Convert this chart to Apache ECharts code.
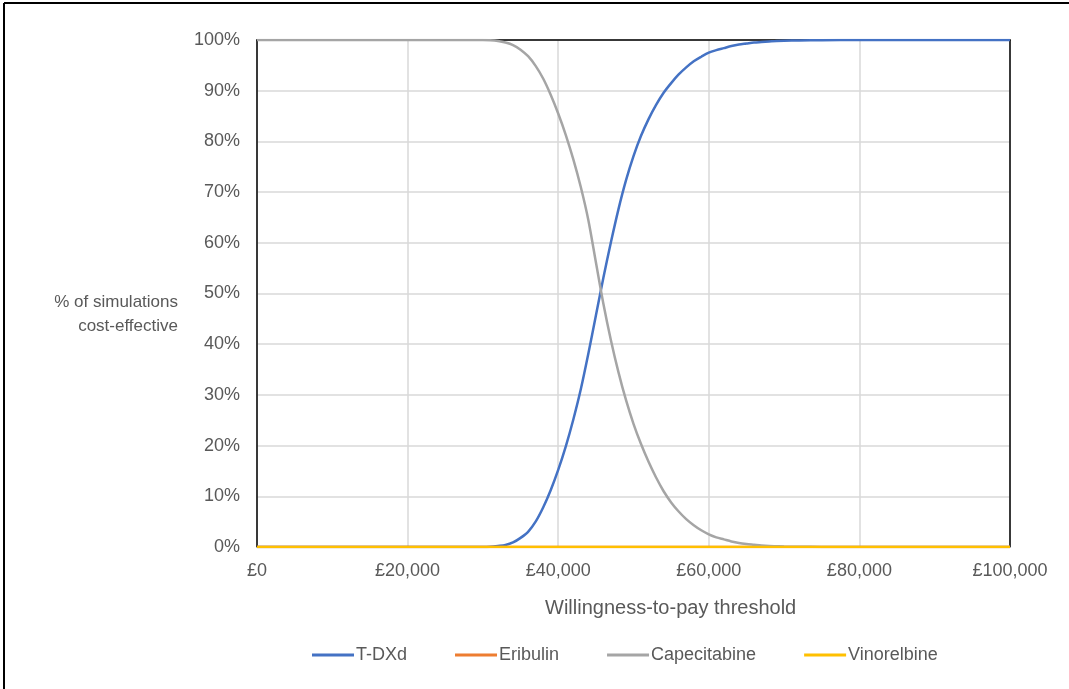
<!DOCTYPE html>
<html>
<head>
<meta charset="utf-8">
<script src="https://cdn.jsdelivr.net/npm/echarts@6/dist/echarts.min.js"></script>
<style>
html,body{margin:0;padding:0;background:#fff;}
#chart{width:1069px;height:689px;}
</style>
</head>
<body>
<div id="chart"></div>
<script>
/*WTP threshold (£)*/
var wtp = [0, 10000, 20000, 30000, 31000, 32000, 33000, 34000, 35000, 36000, 37000, 38000, 39000,
	40000, 41000, 42000, 43000, 44000, 45000, 46000, 47000, 48000, 49000,
	50000, 51000, 52000, 53000, 54000, 55000, 56000, 57000, 58000, 59000,
	60000, 61000, 62000, 63000, 64000, 65000, 66000, 67000, 68000, 69000,
	70000, 72000, 75000, 80000, 90000, 100000];
/*% cost-effective per treatment*/
var tdxd = [0, 0, 0, 0, 0.05, 0.2, 0.4, 0.9, 1.8, 3.0, 5.0, 7.8, 11.2,
	15.2, 19.8, 25.1, 31.1, 38.1, 45.6, 53.1, 60.1, 66.6, 72.3,
	77.1, 81.1, 84.4, 87.2, 89.6, 91.5, 93.2, 94.6, 95.8, 96.7,
	97.5, 98, 98.4, 98.8, 99.1, 99.3, 99.5, 99.6, 99.7, 99.8,
	99.85, 99.9, 99.95, 100, 100, 100];
var eribulin = [0, 0, 0, 0, 0, 0, 0, 0, 0, 0, 0, 0, 0,
	0, 0, 0, 0, 0, 0, 0, 0, 0, 0,
	0, 0, 0, 0, 0, 0, 0, 0, 0, 0,
	0, 0, 0, 0, 0, 0, 0, 0, 0, 0,
	0, 0, 0, 0, 0, 0];
var capecitabine = [100, 100, 100, 100, 99.95, 99.8, 99.5, 99, 98.1, 96.8, 94.9, 92.4, 89.2,
	85.5, 81.3, 76.5, 71, 64.5, 56.2, 48, 40.8, 34.5, 29,
	24.3, 20.3, 16.8, 13.7, 11, 8.8, 7, 5.5, 4.3, 3.3,
	2.5, 1.9, 1.5, 1.1, 0.8, 0.6, 0.45, 0.3, 0.2, 0.15,
	0.1, 0.05, 0.02, 0, 0, 0];
var vinorelbine = [0, 0, 0, 0, 0, 0, 0, 0, 0, 0, 0, 0, 0,
	0, 0, 0, 0, 0, 0, 0, 0, 0, 0,
	0, 0, 0, 0, 0, 0, 0, 0, 0, 0,
	0, 0, 0, 0, 0, 0, 0, 0, 0, 0,
	0, 0, 0, 0, 0, 0];
var seriesNames = ['T-DXd', 'Eribulin', 'Capecitabine', 'Vinorelbine'];
var seriesColors = ['#4472C4', '#ED7D31', '#A5A5A5', '#FFC000'];

var FONT = '"Liberation Sans", Arial, sans-serif';
var TXT = '#595959';

/*拼成 [x,y] 点*/
function toPoints(vals) {
	var pts = [];
	for (var i = 0; i < wtp.length; i++) {
		pts.push([wtp[i], vals[i]]);
	}
	return pts;
}
var allVals = [tdxd, eribulin, capecitabine, vinorelbine];
var _series = [];
for (var n = 0; n < seriesNames.length; n++) {
	_series.push({
		name: seriesNames[n],
		type: 'line',
		data: toPoints(allVals[n]),
		smooth: 0.3,
		symbol: 'none',
		lineStyle: { width: 2.5, color: seriesColors[n] },
		itemStyle: { color: seriesColors[n] },
		z: 3 + n
	});
}

/*边框用的空轴*/
var frameAxis = {
	axisLine: { show: true, onZero: false, lineStyle: { color: '#000', width: 1.5 } },
	axisTick: { show: false },
	axisLabel: { show: false },
	splitLine: { show: false }
};

var chart = echarts.init(document.getElementById('chart'), null, { renderer: 'canvas' });
var option = {
	animation: false,
	textStyle: { fontFamily: FONT },
	grid: { left: 257, right: 59, top: 40, bottom: 142 },
	xAxis: [{
		type: 'value',
		min: 0, max: 100000, interval: 20000,
		axisLine: { show: true, lineStyle: { color: '#d9d9d9' } },
		axisTick: { show: false },
		axisLabel: {
			color: TXT, fontSize: 18, margin: 15, fontFamily: FONT,
			formatter: function (v) { return '£' + v.toLocaleString('en-GB'); }
		},
		splitLine: { show: true, lineStyle: { color: '#d9d9d9', width: 1.5 } }
	}, echarts.util.merge({ type: 'value', position: 'top', min: 0, max: 100000 }, frameAxis)],
	yAxis: [{
		type: 'value',
		min: 0, max: 100, interval: 10,
		axisLine: { show: true, onZero: false, lineStyle: { color: '#000', width: 1.5 } },
		axisTick: { show: false },
		axisLabel: { color: TXT, fontSize: 18, margin: 17, fontFamily: FONT, formatter: '{value}%' },
		splitLine: { show: true, lineStyle: { color: '#d9d9d9', width: 1.5 } }
	}, echarts.util.merge({ type: 'value', position: 'right', min: 0, max: 100 }, frameAxis)],
	legend: {
		data: seriesNames,
		bottom: 20,
		left: 307,
		icon: 'rect',
		itemWidth: 42,
		itemHeight: 3,
		itemGap: 48,
		textStyle: { color: TXT, fontSize: 18, fontFamily: FONT, padding: [0, 0, 0, -3] }
	},
	graphic: [
		{ type: 'text', right: 1069 - 178, top: 290, style: { text: '% of simulations\ncost-effective', fill: TXT, font: '17px ' + FONT, textAlign: 'right', lineHeight: 24 } },
		{ type: 'text', left: 545, top: 598, style: { text: 'Willingness-to-pay threshold', fill: TXT, font: '20px ' + FONT } },
		{ type: 'line', shape: { x1: 4, y1: 3, x2: 4, y2: 689 }, style: { stroke: '#000', lineWidth: 2 } },
		{ type: 'line', shape: { x1: 4, y1: 3, x2: 1069, y2: 3 }, style: { stroke: '#000', lineWidth: 2 } }
	],
	series: _series
};
chart.setOption(option);
</script>
</body>
</html>
